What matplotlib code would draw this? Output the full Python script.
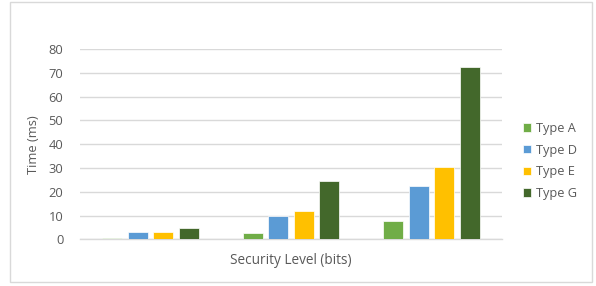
import matplotlib
matplotlib.use("Agg")
import matplotlib.pyplot as plt
from matplotlib.patches import Rectangle
import numpy as np

plt.rcParams['font.family'] = ['Open Sans', 'DejaVu Sans']

groups = ["Level 1", "Level 2", "Level 3"]
series = ["Type A", "Type D", "Type E", "Type G"]
type_a = [0.5, 2.6, 7.8]
type_d = [2.9, 9.9, 22.4]
type_e = [2.9, 11.9, 30.6]
type_g = [4.9, 24.3, 72.4]
values = [type_a, type_d, type_e, type_g]
colors = ["#70AD47", "#5B9BD5", "#FFC000", "#43682B"]
yticks = [0, 10, 20, 30, 40, 50, 60, 70, 80]

fig = plt.figure(figsize=(5.96, 2.86), dpi=100)
fig.patches.append(Rectangle((10/596, 1-282/286), 582/596, 280/286, transform=fig.transFigure,
                             facecolor='none', edgecolor='#d9d9d9', linewidth=1, zorder=-1))
ax = fig.add_axes([80/596, 1-239.3/286, 422/596, 190.3/286])
ax.set_facecolor('none')

x = np.arange(len(groups))
w = 0.142
step = 0.181
for i, (vals, c, name) in enumerate(zip(values, colors, series)):
    ax.bar(x + (i - 1.5) * step, vals, width=w, color=c, edgecolor='white', linewidth=0.5,
           label=name, zorder=3)

ax.set_xlim(-0.5, 2.5)
ax.set_ylim(0, 80)
ax.set_yticks(yticks)
ax.set_xticks([])
ax.grid(axis='y', color='#d9d9d9', linewidth=1, zorder=0)
for s in ['top', 'right', 'left']:
    ax.spines[s].set_visible(False)
ax.spines['bottom'].set_color('#d9d9d9')
ax.spines['bottom'].set_linewidth(1)
ax.tick_params(axis='y', length=0, labelsize=9.3, labelcolor='#595959', pad=12)
ax.set_ylabel("Time (ms)", fontsize=9.3, color='#595959', labelpad=6)
ax.set_xlabel("Security Level (bits)", fontsize=9.8, color='#595959', labelpad=10)

leg = fig.legend(loc='upper left', bbox_to_anchor=(511/596, 1-110.5/286), frameon=False,
                 fontsize=9.2, labelcolor='#595959', handlelength=0.65, handleheight=0.65,
                 handletextpad=0.4, labelspacing=0.68)

fig.savefig("out.png", dpi=100)
